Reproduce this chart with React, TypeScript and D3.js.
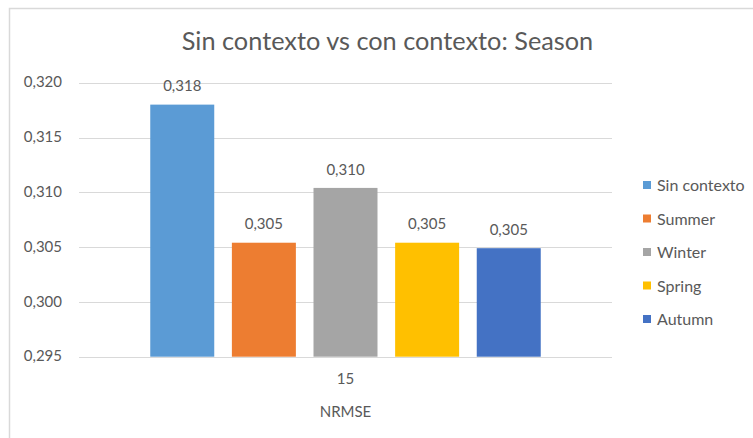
import React from "react";
import { scaleLinear, scaleBand, format } from "d3";

const title = "Sin contexto vs con contexto: Season";
const categories = ["15"];
const series = ["Sin contexto", "Summer", "Winter", "Spring", "Autumn"];
const values = [0.318, 0.3054, 0.3104, 0.3054, 0.3049];
const colors = ["#5B9BD5", "#ED7D31", "#A5A5A5", "#FFC000", "#4472C4"];
const yTicks = [0.295, 0.3, 0.305, 0.31, 0.315, 0.32];
const axisTitle = "NRMSE";

const FONT = "Lato, 'Open Sans', sans-serif";
const TEXT = "#595959";
const FS = 15;

const fmt = (v: number) => format(".3f")(v).replace(".", ",");

export default function App() {
  const width = 753;
  const height = 438;
  const plot = { left: 79, right: 612, top: 82.7, bottom: 356.7 };

  const yScale = scaleLinear().domain([0.295, 0.32]).range([plot.bottom, plot.top]);
  const catScale = scaleBand()
    .domain(categories)
    .range([plot.left, plot.right])
    .paddingInner(0)
    .paddingOuter(0.153);
  const barScale = scaleBand()
    .domain(series)
    .range([0, catScale.bandwidth()])
    .paddingInner(0.216)
    .paddingOuter(0.108);

  return (
    <svg
      width={width}
      height={height}
      style={{ position: "absolute", left: 0, top: 0, background: "#fff" }}
      fontFamily={FONT}
    >
      {/* chart border */}
      <path d={`M9.5,${height} V8.5 H${width}`} fill="none" stroke="#d9d9d9" strokeWidth={1.5} />

      <text x={387.5} y={50} textAnchor="middle" fontSize={25.3} fill={TEXT}>
        {title}
      </text>

      {yTicks.map((t) => (
        <g key={t}>
          <line
            x1={plot.left}
            x2={plot.right}
            y1={Math.round(yScale(t)) + 0.5}
            y2={Math.round(yScale(t)) + 0.5}
            stroke="#d9d9d9"
          />
          <text x={62} y={yScale(t) + 4.6} textAnchor="end" fontSize={FS} fill={TEXT}>
            {fmt(t)}
          </text>
        </g>
      ))}

      {categories.map((c) => (
        <g key={c} transform={`translate(${catScale(c)},0)`}>
          {series.map((s, i) => {
            const x = barScale(s) as number;
            const y = yScale(values[i]);
            return (
              <g key={s}>
                <rect
                  x={x}
                  y={y}
                  width={barScale.bandwidth()}
                  height={plot.bottom - y}
                  fill={colors[i]}
                />
                <text
                  x={x + barScale.bandwidth() / 2}
                  y={y - 13.3}
                  textAnchor="middle"
                  fontSize={FS}
                  fill={TEXT}
                >
                  {fmt(values[i])}
                </text>
              </g>
            );
          })}
          <text
            x={catScale.bandwidth() / 2}
            y={384}
            textAnchor="middle"
            fontSize={FS}
            fill={TEXT}
          >
            {c}
          </text>
        </g>
      ))}

      <line x1={plot.left} x2={plot.right} y1={357.5} y2={357.5} stroke="#d9d9d9" />

      <text x={(plot.left + plot.right) / 2} y={417} textAnchor="middle" fontSize={FS} fill={TEXT}>
        {axisTitle}
      </text>

      {series.map((s, i) => (
        <g key={s} transform={`translate(643,${185 + i * 33.5})`}>
          <rect x={0} y={-4} width={8} height={8} fill={colors[i]} />
          <text x={14} y={6} fontSize={16} fill={TEXT}>
            {s}
          </text>
        </g>
      ))}
    </svg>
  );
}
